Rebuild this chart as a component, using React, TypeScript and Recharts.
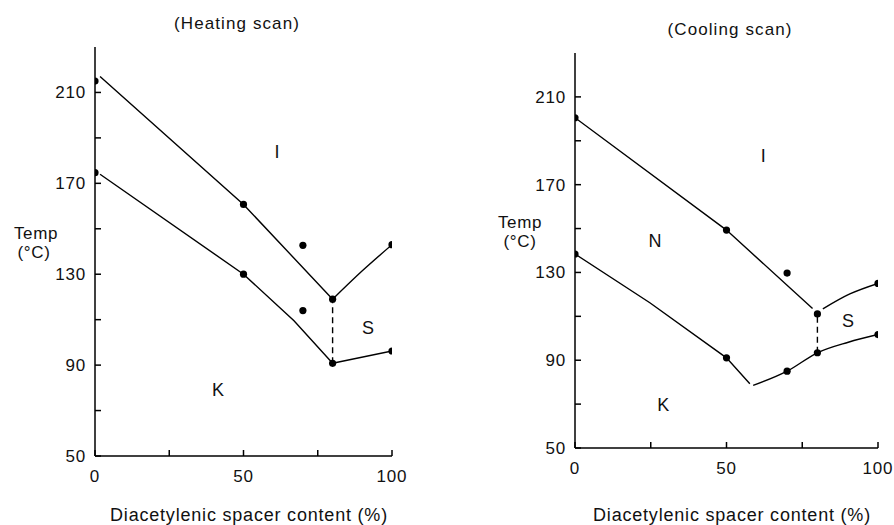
import { ComposedChart, Line, Scatter, XAxis, YAxis } from 'recharts';

// ── heating scan ──
const heatUpper = [{ x: 1.7, y: 217 }, { x: 50, y: 160.7 }, { x: 80, y: 119 }];
const heatUpperRight = [{ x: 80, y: 119 }, { x: 90, y: 131.5 }, { x: 100, y: 143 }];
const heatLower = [{ x: 1.7, y: 174 }, { x: 50, y: 130 }, { x: 67, y: 109.5 }, { x: 80, y: 90.8 }];
const heatLowerRight = [{ x: 80, y: 90.8 }, { x: 100, y: 96.2 }];
const heatDash = [{ x: 80, y: 90.8 }, { x: 80, y: 119 }];
const heatDots = [
  { x: 0, y: 215 }, { x: 50, y: 160.7 }, { x: 70, y: 142.7 }, { x: 80, y: 119 }, { x: 100, y: 143 },
  { x: 0, y: 174.7 }, { x: 50, y: 130 }, { x: 70, y: 114 }, { x: 80, y: 90.8 }, { x: 100, y: 96.2 },
];
const heatRegions = [{ x: 61.3, y: 183.6, t: 'I' }, { x: 91.9, y: 106.4, t: 'S' }, { x: 41.4, y: 79, t: 'K' }];

// ── cooling scan ──
const coolUpper = [{ x: 0, y: 200.5 }, { x: 50, y: 149.3 }, { x: 78.4, y: 113.6 }];
const coolUpperRight = [{ x: 81.8, y: 113.4 }, { x: 90.7, y: 120.2 }, { x: 100, y: 125 }];
const coolLower = [{ x: 0, y: 138.4 }, { x: 24.7, y: 116.2 }, { x: 50, y: 91.1 }, { x: 57.7, y: 79.3 }];
const coolLowerRight = [{ x: 58.8, y: 78.5 }, { x: 70, y: 85 }, { x: 80, y: 93.4 }, { x: 90.2, y: 98.2 }, { x: 100, y: 101.7 }];
const coolDash = [{ x: 80, y: 93.4 }, { x: 80, y: 111.1 }];
const coolDots = [
  { x: 0, y: 200.5 }, { x: 50, y: 149.3 }, { x: 70, y: 129.7 }, { x: 80, y: 111.1 }, { x: 100, y: 125 },
  { x: 0, y: 138.4 }, { x: 50, y: 91.1 }, { x: 70, y: 85 }, { x: 80, y: 93.4 }, { x: 100, y: 101.7 },
];
const coolRegions = [
  { x: 62.1, y: 183, t: 'I' }, { x: 26.4, y: 144.4, t: 'N' }, { x: 90.1, y: 108, t: 'S' }, { x: 29.1, y: 69.4, t: 'K' },
];

const xTicks = [0, 25, 50, 75, 100];
const xLabels = [0, 50, 100];
const yTicks = [50, 70, 90, 110, 130, 150, 170, 190, 210];
const yLabels = [50, 90, 130, 170, 210];

const FONT = '"Liberation Sans", Arial, sans-serif';
const tickStyle = { fill: '#111', fontSize: 17, fontFamily: FONT, letterSpacing: 0.8 };

function Dot(p: any) {
  return <circle cx={p.cx} cy={p.cy} r={3.6} fill="#000" />;
}

function RegionText(p: any) {
  return (
    <text x={p.cx} y={p.cy} textAnchor="middle" dominantBaseline="central" fontSize={18} fontFamily={FONT} fill="#111">
      {p.payload.t}
    </text>
  );
}

type Curve = { x: number; y: number }[];

function Panel({ width, height, margin, solid, curved, dash, dots, regions }: {
  width: number; height: number; margin: { top: number; right: number; bottom: number; left: number };
  solid: Curve[]; curved: Curve[]; dash: Curve; dots: Curve; regions: { x: number; y: number; t: string }[];
}) {
  return (
    <ComposedChart width={width} height={height} margin={margin}>
      <XAxis xAxisId="b" type="number" dataKey="x" domain={[0, 100]} ticks={xTicks} allowDataOverflow
        tickFormatter={v => (xLabels.includes(v) ? String(v) : '')}
        stroke="#000" strokeWidth={1.5} tickSize={-6} tickMargin={20} height={30} tick={tickStyle} interval={0} />
      <XAxis xAxisId="t" orientation="top" type="number" dataKey="x" domain={[0, 100]} tick={false} tickLine={false}
        stroke="#000" strokeWidth={1.5} height={0} />
      <YAxis yAxisId="l" type="number" dataKey="y" domain={[50, 230]} ticks={yTicks} allowDataOverflow
        tickFormatter={v => (yLabels.includes(v) ? String(v) : '')}
        stroke="#000" strokeWidth={1.5} tickSize={-6} tickMargin={15} width={40} tick={tickStyle} interval={0} />
      <YAxis yAxisId="r" orientation="right" type="number" dataKey="y" domain={[50, 230]} tick={false} tickLine={false}
        stroke="#000" strokeWidth={1.5} width={0} />
      {solid.map((d, i) => (
        <Line key={'s' + i} xAxisId="b" yAxisId="l" data={d} dataKey="y" type="linear" stroke="#000" strokeWidth={1.4}
          dot={false} activeDot={false} isAnimationActive={false} />
      ))}
      {curved.map((d, i) => (
        <Line key={'c' + i} xAxisId="b" yAxisId="l" data={d} dataKey="y" type="monotone" stroke="#000" strokeWidth={1.4}
          dot={false} activeDot={false} isAnimationActive={false} />
      ))}
      <Line xAxisId="b" yAxisId="l" data={dash} dataKey="y" type="linear" stroke="#000" strokeWidth={1.4}
        strokeDasharray="6 4" dot={false} activeDot={false} isAnimationActive={false} />
      <Scatter xAxisId="b" yAxisId="l" data={dots} dataKey="y" shape={Dot} isAnimationActive={false} />
      <Scatter xAxisId="b" yAxisId="l" data={regions} dataKey="y" shape={RegionText} isAnimationActive={false} />
    </ComposedChart>
  );
}

const txt = (x: number, y: number, s: string, size = 17, ls = 0.6): any => (
  <div style={{
    position: 'absolute', left: x, top: y, transform: 'translate(-50%, -50%)', whiteSpace: 'nowrap',
    fontFamily: FONT, fontSize: size, color: '#111', letterSpacing: ls, lineHeight: 1,
  }}>{s}</div>
);

export default function App() {
  return (
    <div style={{ position: 'absolute', left: 0, top: 0, width: 894, height: 525, background: '#fff', overflow: 'hidden' }}>
      <div style={{ position: 'absolute', left: 0, top: 0 }}>
        <Panel width={450} height={525} margin={{ top: 47, right: 58, bottom: 39, left: 55 }}
          solid={[heatUpper, heatLower, heatLowerRight]} curved={[heatUpperRight]} dash={heatDash}
          dots={heatDots} regions={heatRegions} />
      </div>
      <div style={{ position: 'absolute', left: 450, top: 0 }}>
        <Panel width={444} height={525} margin={{ top: 53, right: 16, bottom: 47, left: 85 }}
          solid={[coolUpper, coolLower]} curved={[coolUpperRight, coolLowerRight]} dash={coolDash}
          dots={coolDots} regions={coolRegions} />
      </div>
      {txt(237, 23, '(Heating scan)', 17, 1.1)}
      {txt(730, 29, '(Cooling scan)', 17, 1.1)}
      {txt(36, 233, 'Temp')}
      {txt(34, 252, '(°C)')}
      {txt(520, 222, 'Temp')}
      {txt(520, 241, '(°C)')}
      {txt(249, 515, 'Diacetylenic spacer content (%)', 18, 0.8)}
      {txt(732, 515, 'Diacetylenic spacer content (%)', 18, 0.8)}
    </div>
  );
}
